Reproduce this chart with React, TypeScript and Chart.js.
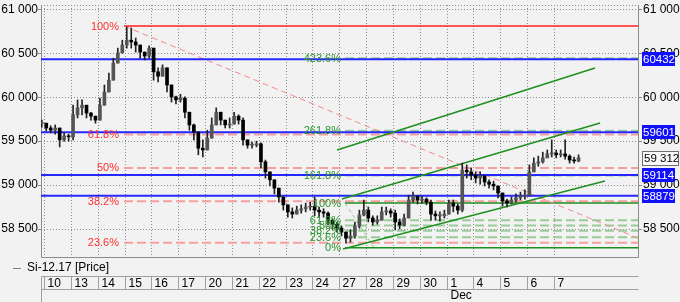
import React, { useEffect, useRef } from 'react';
import { Chart, registerables } from 'chart.js';

Chart.register(...registerables);

// ---------- data ----------
const dayLabels = ['10', '13', '14', '15', '16', '17', '20', '21', '22', '23', '24', '27', '28', '29', '30', '1', '4', '5', '6', '7'];
const monthDayIndex = 15; // '1' -> Dec
const monthLabel = 'Dec';
const seriesName = 'Si-12.17 [Price]';
const barsPerDay = 6;
const firstOpen = 59700;

const closes = [
  59705, 59650, 59625, 59650, 59515, 59560, 59550,
  59800, 59880, 59910, 59820, 59785, 59740,
  59910, 60060, 60195, 60390, 60505, 60595,
  60650, 60630, 60595, 60515, 60470, 60560,
  60290, 60240, 60335, 60140, 60005, 59970,
  59990, 59830, 59685, 59605, 59420, 59400,
  59535, 59685, 59830, 59740, 59685, 59695,
  59785, 59740, 59515, 59455, 59455, 59470,
  59265, 59150, 59060, 58965, 58865, 58775,
  58695, 58670, 58715, 58730, 58750, 58760,
  58715, 58695, 58680, 58600, 58555, 58510,
  58465, 58395, 58420, 58535, 58660, 58715,
  58625, 58580, 58600, 58695, 58705, 58680,
  58580, 58545, 58625, 58830, 58875, 58830,
  58840, 58805, 58670, 58650, 58650, 58670,
  58795, 58760, 58715, 59170, 59150, 59115,
  59080, 59105, 59035, 59010, 58990, 58910,
  58820, 58795, 58830, 58855, 58875, 58885,
  59150, 59250, 59265, 59310, 59355, 59365,
  59345, 59355, 59330, 59285, 59275, 59312,
];
const highs = [
  59740, 59695, 59675, 59685, 59650, 59595, 59580,
  59910, 59970, 59970, 59900, 59830, 59785,
  59990, 60140, 60275, 60445, 60560, 60650,
  60800, 60790, 60675, 60595, 60515, 60585,
  60560, 60335, 60370, 60335, 60105, 60015,
  60035, 60005, 59830, 59695, 59570, 59515,
  59625, 59765, 59880, 59820, 59740, 59765,
  59830, 59800, 59765, 59500, 59490, 59500,
  59480, 59285, 59150, 59060, 58965, 58865,
  58775, 58740, 58760, 58775, 58795, 58805,
  58865, 58750, 58730, 58695, 58615, 58580,
  58535, 58465, 58490, 58580, 58715, 58830,
  58750, 58650, 58650, 58750, 58750, 58730,
  58715, 58615, 58670, 58885, 58920, 58875,
  58875, 58855, 58830, 58705, 58695, 58715,
  58830, 58830, 58785, 59250, 59230, 59195,
  59150, 59150, 59090, 59060, 59045, 58990,
  58885, 58840, 58865, 58900, 58920, 58945,
  59230, 59310, 59330, 59375, 59400, 59515,
  59400, 59400, 59515, 59345, 59320, 59345,
];
const lows = [
  59660, 59615, 59595, 59580, 59435, 59500, 59500,
  59515, 59765, 59800, 59765, 59740, 59705,
  59740, 59970, 60105, 60290, 60445, 60515,
  60560, 60560, 60515, 60445, 60425, 60445,
  60195, 60175, 60240, 60060, 59945, 59925,
  59945, 59765, 59625, 59515, 59345, 59320,
  59400, 59570, 59685, 59685, 59650, 59650,
  59695, 59695, 59455, 59420, 59420, 59435,
  59195, 59080, 58990, 58900, 58805, 58715,
  58635, 58625, 58670, 58680, 58695, 58715,
  58650, 58635, 58635, 58545, 58500, 58465,
  58420, 58340, 58350, 58395, 58510, 58650,
  58580, 58545, 58555, 58650, 58660, 58635,
  58490, 58500, 58535, 58625, 58805, 58785,
  58795, 58775, 58600, 58600, 58590, 58625,
  58670, 58695, 58670, 58695, 59080, 59060,
  59025, 59010, 58990, 58965, 58945, 58855,
  58760, 58750, 58785, 58805, 58830, 58840,
  58875, 59170, 59215, 59250, 59310, 59320,
  59310, 59320, 59295, 59250, 59250, 59265,
];

const yTicks = [58500, 59000, 59500, 60000, 60500, 61000];
const blueLevels = [60432, 59601, 59114, 58879];
const lastPrice = 59312;

// red Fibonacci (retracement from high at start of day 15)
const redFibStart = 2.981;
const redFibLabels = ['100%', '61.8%', '50%', '38.2%', '23.6%'];
const redFibValues = [60812, 59575, 59196, 58815, 58343];
const redAnchor = [{ x: 2.981, y: 60812 }, { x: 28.6, y: 57580 }];

// green Fibonacci (extension from low on day 27)
const greenFibStart = 11.215;
const greenFibLabels = ['423.6%', '261.8%', '161.8%', '100%', '61.8%', '50%', '38.2%', '23.6%', '0%'];
const greenFibValues = [60445, 59620, 59110, 58795, 58600, 58540, 58480, 58405, 58285];
const greenSolid = ['100%', '0%'];
const greenAnchor = [{ x: 11.215, y: 58795 }, { x: 12.3, y: 58285 }];

// channel lines
const channelLines = [
  [{ x: 10.92, y: 59400 }, { x: 20.53, y: 60334 }],
  [{ x: 11.1, y: 58842 }, { x: 20.72, y: 59707 }],
  [{ x: 11.14, y: 58272 }, { x: 20.9, y: 59046 }],
];

const X_MIN = -0.112;
const X_MAX = 22.131;
const Y_MIN = 58181;
const Y_MAX = 61051;

const BG = '#f2f2f2';
const FONT = '"Liberation Sans", Arial, sans-serif';

function fmt(v: number) {
  const s = String(Math.round(v));
  return s.slice(0, s.length - 3) + ' ' + s.slice(-3);
}

export default function App() {
  const ref = useRef<HTMLCanvasElement>(null);

  useEffect(() => {
    const canvas = ref.current!;
    const tAt = (k: number) => (k - 0.5) / barsPerDay;
    const opens = closes.map((c, k) => (k === 0 ? firstOpen : closes[k - 1]));
    const wickData = closes.map((c, k) => ({
      x: tAt(k),
      y: [Math.min(lows[k], opens[k], c), Math.max(highs[k], opens[k], c)],
    }));
    const bodyData = closes.map((c, k) => ({
      x: tAt(k),
      y: [Math.min(opens[k], c), Math.max(opens[k], c)],
    }));
    const bodyColors = closes.map((c, k) => (c >= opens[k] ? '#555555' : '#000000'));

    const far = X_MAX + 1;
    const seg = (pts: any[], color: string, width: number, dash: number[] = [], order = 2) => ({
      type: 'line',
      data: pts,
      borderColor: color,
      borderWidth: width,
      borderDash: dash,
      pointRadius: 0,
      pointHoverRadius: 0,
      fill: false,
      tension: 0,
      order,
    });

    const datasets: any[] = [];
    datasets.push({
      type: 'bar',
      data: bodyData,
      backgroundColor: bodyColors,
      borderWidth: 0,
      barThickness: 3,
      minBarLength: 1,
      grouped: false,
      order: 0,
    });
    datasets.push({
      type: 'bar',
      data: wickData,
      backgroundColor: '#222222',
      borderWidth: 0,
      barThickness: 1,
      grouped: false,
      order: 1,
    });

    // red fib
    redFibValues.forEach((v, i) => {
      if (redFibLabels[i] === '100%') {
        datasets.push(seg([{ x: redFibStart, y: v }, { x: far, y: v }], '#ff1e1e', 1.5, [], 3));
      } else {
        datasets.push(seg([{ x: redFibStart, y: v }, { x: far, y: v }], '#f5a0a0', 2, [9, 4], 4));
      }
    });
    datasets.push(seg(redAnchor, '#f38a8a', 1, [6, 4], 3));

    // green fib
    greenFibValues.forEach((v, i) => {
      if (greenSolid.includes(greenFibLabels[i])) {
        datasets.push(seg([{ x: greenFibStart, y: v }, { x: far, y: v }], '#1f8f1f', 1.5, [], 3));
      } else {
        datasets.push(seg([{ x: greenFibStart, y: v }, { x: far, y: v }], '#99cc99', 2, [9, 4], 4));
      }
    });
    datasets.push(seg(greenAnchor, '#8fcf8f', 1, [4, 3], 3));

    channelLines.forEach((pts) => datasets.push(seg(pts, '#1f8f1f', 1.5, [], 2)));

    blueLevels.forEach((v) => datasets.push(seg([{ x: X_MIN - 1, y: v }, { x: far, y: v }], '#2626ff', 2, [], 2)));

    const decor = {
      id: 'decor',
      beforeDraw(chart: any) {
        const { ctx, width, height } = chart;
        ctx.save();
        ctx.fillStyle = BG;
        ctx.fillRect(0, 0, width, height);
        ctx.restore();
      },
      beforeDatasetsDraw(chart: any) {
        const { ctx, chartArea: a } = chart;
        const xs = chart.scales.x;
        const ys = chart.scales.y;
        ctx.save();
        ctx.strokeStyle = '#8e8e8e';
        ctx.lineWidth = 1;
        ctx.setLineDash([1, 2]);
        const hl = (py: number) => {
          ctx.beginPath();
          ctx.moveTo(a.left, py);
          ctx.lineTo(a.right, py);
          ctx.stroke();
        };
        yTicks.forEach((v) => hl(Math.round(ys.getPixelForValue(v)) + 0.5));
        hl(Math.round(a.top) + 0.5);
        dayLabels.forEach((_, d) => {
          const px = Math.round(xs.getPixelForValue(d)) + 0.5;
          ctx.beginPath();
          ctx.moveTo(px, a.top);
          ctx.lineTo(px, a.bottom);
          ctx.stroke();
        });
        ctx.setLineDash([]);
        ctx.strokeStyle = '#8c8c8c';
        ctx.beginPath();
        ctx.moveTo(a.left + 0.5, a.top);
        ctx.lineTo(a.left + 0.5, a.bottom + 0.5);
        ctx.lineTo(a.right + 0.5, a.bottom + 0.5);
        ctx.lineTo(a.right + 0.5, a.top);
        ctx.stroke();
        yTicks.forEach((v) => {
          const py = Math.round(ys.getPixelForValue(v)) + 0.5;
          ctx.beginPath();
          ctx.moveTo(a.left - 3, py);
          ctx.lineTo(a.left, py);
          ctx.moveTo(a.right, py);
          ctx.lineTo(a.right + 4, py);
          ctx.stroke();
        });
        ctx.restore();
      },
      afterDatasetsDraw(chart: any) {
        const { ctx, chartArea: a } = chart;
        const xs = chart.scales.x;
        const ys = chart.scales.y;
        ctx.save();
        ctx.textBaseline = 'middle';

        // fib labels
        ctx.font = '11px ' + FONT;
        ctx.textAlign = 'right';
        ctx.fillStyle = '#ff3030';
        const rx = xs.getPixelForValue(redFibStart) - 5;
        redFibValues.forEach((v, i) => ctx.fillText(redFibLabels[i], rx, ys.getPixelForValue(v) + 0.5));
        ctx.fillStyle = '#2a922a';
        const gx = xs.getPixelForValue(greenFibStart) - 4;
        greenFibValues.forEach((v, i) => ctx.fillText(greenFibLabels[i], gx, ys.getPixelForValue(v) + 0.5));

        // axis labels
        ctx.font = '12px ' + FONT;
        ctx.fillStyle = '#000';
        yTicks.forEach((v) => {
          const py = ys.getPixelForValue(v);
          ctx.textAlign = 'right';
          ctx.fillText(fmt(v), a.left - 3, py);
          ctx.textAlign = 'left';
          ctx.fillText(fmt(v), a.right + 5, py);
        });

        // last price box
        ctx.textAlign = 'left';
        ctx.font = '11.5px ' + FONT;
        const lp = Math.round(ys.getPixelForValue(lastPrice));
        ctx.fillStyle = '#f9f9f9';
        ctx.fillRect(a.right + 4, lp - 7, 37, 15);
        ctx.strokeStyle = '#707070';
        ctx.lineWidth = 1;
        ctx.strokeRect(a.right + 4.5, lp - 6.5, 36, 14);
        ctx.fillStyle = '#000';
        ctx.fillText(fmt(lastPrice), a.right + 6, lp + 0.5);

        // blue level boxes
        blueLevels.forEach((v) => {
          const py = Math.round(ys.getPixelForValue(v));
          ctx.fillStyle = '#1010ff';
          ctx.fillRect(a.right + 4, py - 7, 33, 14);
          ctx.fillStyle = '#ffffff';
          ctx.fillText(String(v), a.right + 5, py + 0.5);
        });

        // legend
        ctx.strokeStyle = '#808080';
        ctx.beginPath();
        ctx.moveTo(13, 268.5);
        ctx.lineTo(21, 268.5);
        ctx.stroke();
        ctx.fillStyle = '#000';
        ctx.font = '12px ' + FONT;
        ctx.fillText(seriesName, 27, 268);

        // date axis box
        const top = 276.5;
        const bot = 289.5;
        ctx.strokeStyle = '#a0a0a0';
        ctx.beginPath();
        ctx.moveTo(a.left + 0.5, top);
        ctx.lineTo(a.right + 0.5, top);
        ctx.moveTo(a.left + 0.5, bot);
        ctx.lineTo(a.right + 0.5, bot);
        ctx.moveTo(a.left + 0.5, top);
        ctx.lineTo(a.left + 0.5, 302);
        ctx.stroke();
        dayLabels.forEach((lab, d) => {
          const px = Math.round(xs.getPixelForValue(d)) + 0.5;
          ctx.strokeStyle = '#a0a0a0';
          ctx.beginPath();
          ctx.moveTo(px, top);
          ctx.lineTo(px, bot);
          ctx.stroke();
          ctx.fillStyle = '#000';
          ctx.fillText(lab, px + 3, 283.5);
          if (d === monthDayIndex) ctx.fillText(monthLabel, px + 3, 296);
        });
        ctx.restore();
      },
    };

    const chart = new Chart(canvas, {
      type: 'bar',
      data: { datasets },
      options: {
        responsive: false,
        animation: false,
        devicePixelRatio: 1,
        events: [],
        layout: { padding: { left: 41, right: 42, top: 5, bottom: 45 } },
        plugins: { legend: { display: false }, tooltip: { enabled: false } },
        scales: {
          x: { type: 'linear', min: X_MIN, max: X_MAX, offset: false, display: false },
          y: { type: 'linear', min: Y_MIN, max: Y_MAX, display: false },
        },
      } as any,
      plugins: [decor],
    } as any);
    return () => chart.destroy();
  }, []);

  return (
    <div style={{ position: 'fixed', left: 0, top: 0, width: 680, height: 302 }}>
      <canvas ref={ref} width={680} height={302} style={{ display: 'block' }} />
    </div>
  );
}
